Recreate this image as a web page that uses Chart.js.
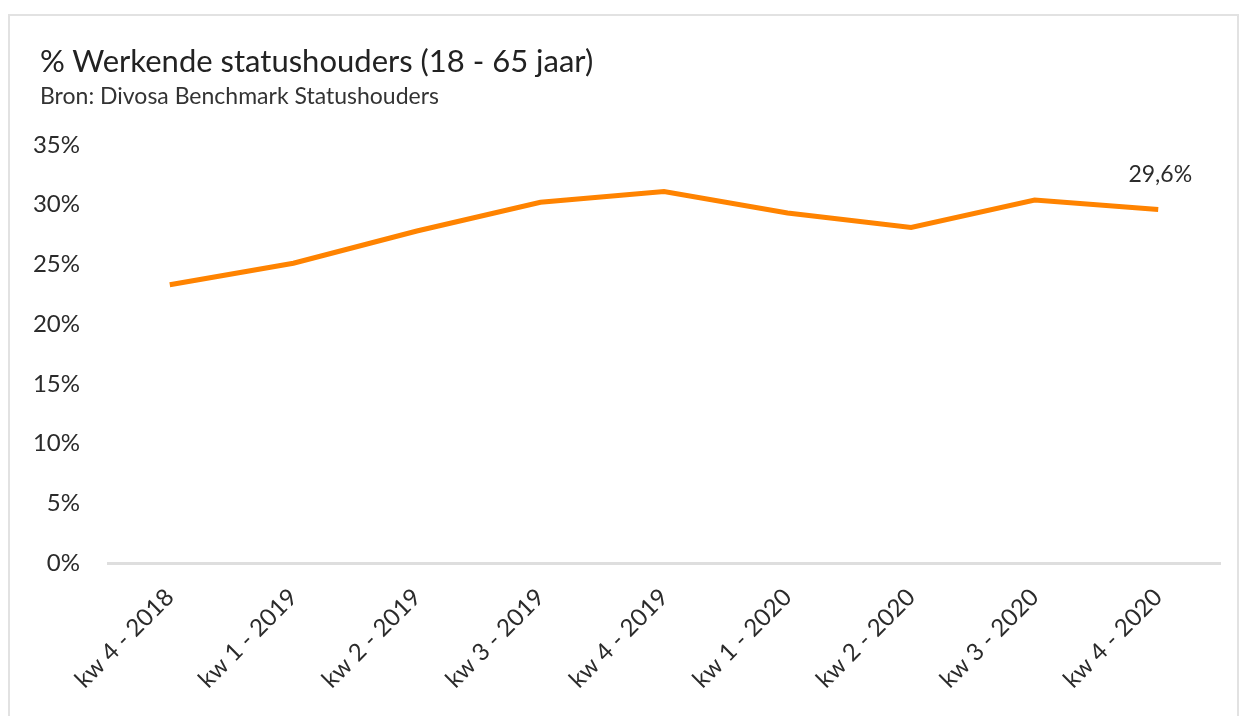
<!DOCTYPE html>
<html>
<head>
<meta charset="utf-8">
<script src="https://cdn.jsdelivr.net/npm/chart.js@4"></script>
<style>
  body { margin: 0; background: #fff; overflow: hidden; font-family: Lato, "Open Sans", sans-serif; }
  #frame { position: absolute; left: 8px; top: 14px; width: 1227px; height: 720px; border: 2px solid #e2e2e2; }
  #firstChart { position: absolute; left: 0; top: 0; }
  #title { position: absolute; left: 40px; top: 42px; font-size: 31px; line-height: 37px; color: #222; white-space: nowrap; }
  #subtitle { position: absolute; left: 40px; top: 81px; font-size: 23px; line-height: 28px; color: #333; white-space: nowrap; }
</style>
</head>
<body>
<div id="frame"></div>
<canvas id="firstChart" width="1245" height="716"></canvas>
<div id="title">% Werkende statushouders (18 - 65 jaar)</div>
<div id="subtitle">Bron: Divosa Benchmark Statushouders</div>
<script>
const quarters = ['kw 4 - 2018', 'kw 1 - 2019', 'kw 2 - 2019', 'kw 3 - 2019', 'kw 4 - 2019',
                  'kw 1 - 2020', 'kw 2 - 2020', 'kw 3 - 2020', 'kw 4 - 2020'];
const working = [23.3, 25.1, 27.8, 30.2, 31.1, 29.3, 28.1, 30.4, 29.6];
const yTicks = [0, 5, 10, 15, 20, 25, 30, 35];

const fontName = 'Lato, "Open Sans", sans-serif';
const textColor = '#2b2b2b';

// label on the last point only, like the original
const lastLabel = {
    id: 'lastLabel',
    afterDatasetsDraw(chart) {
        const meta = chart.getDatasetMeta(0);
        const i = working.length - 1;
        const pt = meta.data[i];
        const ctx = chart.ctx;
        ctx.save();
        ctx.font = '23px ' + fontName;
        ctx.fillStyle = textColor;
        ctx.textAlign = 'center';
        ctx.textBaseline = 'middle';
        ctx.fillText(working[i].toFixed(1).replace('.', ',') + '%', pt.x + 2, pt.y - 35);
        ctx.restore();
    }
};

function chart(){
    const ctx = document.getElementById('firstChart');
    new Chart(ctx, {
        type: 'line',
        data: {
            labels: quarters,
            datasets: [{
                label: '% Werkende statushouders',
                data: working,
                borderColor: '#ff8300',
                borderWidth: 5,
                pointRadius: 0,
                tension: 0,
                fill: false
            }]
        },
        options: {
            responsive: false,
            animation: false,
            layout: { padding: { top: 145, right: 25, left: 0, bottom: 0 } },
            plugins: {
                legend: { display: false },
                tooltip: { enabled: false }
            },
            scales: {
                x: {
                    offset: true,
                    grid: { display: false, drawTicks: false },
                    border: { display: true, color: '#dedede', width: 3 },
                    ticks: {
                        color: textColor,
                        font: { family: fontName, size: 24 },
                        minRotation: 45,
                        maxRotation: 45,
                        padding: 20
                    },
                    afterFit: (scale) => { scale.height = 153; }
                },
                y: {
                    min: 0,
                    max: 35,
                    grid: { display: false, drawTicks: false },
                    border: { display: false },
                    afterBuildTicks: (scale) => { scale.ticks = yTicks.map(v => ({ value: v })); },
                    ticks: {
                        color: textColor,
                        font: { family: fontName, size: 24 },
                        padding: 28,
                        callback: (v) => v + '%'
                    },
                    afterFit: (scale) => { scale.width = 108; }
                }
            }
        },
        plugins: [lastLabel]
    });
}

chart();
</script>
</body>
</html>
